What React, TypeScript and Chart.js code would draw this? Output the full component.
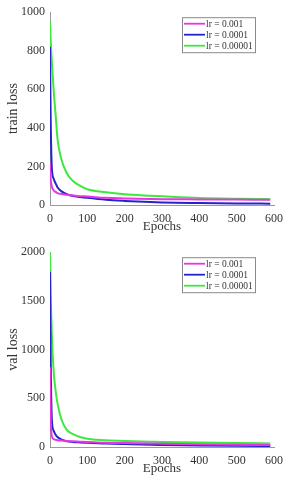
import React, { useEffect, useRef } from "react";
import { Chart, registerables } from "chart.js";

Chart.register(...registerables);

const epochs = [0, 1, 2, 5, 10, 15, 20, 30, 45, 60, 80, 100, 150, 200, 270, 300, 400, 500, 590];
const seriesLabels = ["lr = 0.001", "lr = 0.0001", "lr = 0.00001"];

const trainLr1 = [220, 170, 130, 95, 76, 68, 62, 57, 53, 50, 46, 44, 37, 34, 31, 30, 29, 28, 27];
const trainLr2 = [820, 600, 420, 190, 135, 112, 92, 72, 56, 48, 42, 37, 27, 21, 15, 13, 10, 8, 7];
const trainLr3 = [950, 900, 850, 740, 590, 470, 345, 240, 165, 127, 100, 82, 66, 56, 48, 45, 36, 32, 30];

const valLr1 = [820, 500, 280, 110, 80, 74, 70, 66, 62, 58, 55, 52, 44, 40, 36, 34, 28, 23, 20];
const valLr2 = [1800, 1300, 850, 280, 165, 125, 102, 78, 58, 52, 47, 43, 36, 30, 22, 20, 15, 12, 10];
const valLr3 = [2000, 1800, 1550, 1150, 770, 580, 450, 290, 175, 135, 103, 84, 70, 62, 55, 52, 45, 40, 37];

const colors = ["#e636e6", "#2424c8", "#3ee83e"];
const FONT = "'Liberation Serif', 'Times New Roman', serif";

const boxLegend = {
  id: "boxLegend",
  afterDraw(chart: any) {
    const { ctx, chartArea } = chart;
    const w = 73;
    const h = 35;
    const x = chartArea.right - 19 - w;
    const y = chartArea.top + 5;
    ctx.save();
    ctx.fillStyle = "#ffffff";
    ctx.fillRect(x, y, w, h);
    ctx.strokeStyle = "#8a8a8a";
    ctx.lineWidth = 1;
    ctx.strokeRect(x + 0.5, y + 0.5, w, h);
    ctx.font = `9.5px ${FONT}`;
    ctx.textBaseline = "middle";
    chart.data.datasets.forEach((ds: any, i: number) => {
      const ry = y + 6.5 + i * 11;
      ctx.strokeStyle = ds.borderColor;
      ctx.lineWidth = 1.8;
      ctx.beginPath();
      ctx.moveTo(x + 2, ry);
      ctx.lineTo(x + 23, ry);
      ctx.stroke();
      ctx.fillStyle = "#333";
      ctx.fillText(ds.label, x + 24, ry + 0.5);
    });
    ctx.restore();
  },
};

function makeConfig(yTitle: string, yMax: number, yStep: number, series: number[][], padBottom: number) {
  return {
    type: "line",
    data: {
      datasets: series.map((vals, i) => ({
        label: seriesLabels[i],
        data: epochs.map((e, j) => ({ x: e, y: vals[j] })),
        borderColor: colors[i],
        backgroundColor: colors[i],
        borderWidth: 2,
        pointRadius: 0,
        cubicInterpolationMode: "monotone",
        fill: false,
      })),
    },
    options: {
      responsive: false,
      animation: false,
      devicePixelRatio: 1,
      layout: { padding: { left: 0, right: 16, top: 12, bottom: padBottom } },
      plugins: { legend: { display: false }, tooltip: { enabled: false } },
      scales: {
        x: {
          type: "linear",
          min: 0,
          max: 600,
          grid: { display: false, drawTicks: false },
          border: { display: true, color: "#9a9a9a", width: 1 },
          ticks: {
            stepSize: 100,
            padding: 7,
            color: "#333",
            font: { family: FONT, size: 12 },
            maxRotation: 0,
            callback: (v: any) => String(v),
          },
          title: {
            display: true,
            text: "Epochs",
            color: "#333",
            font: { family: FONT, size: 13 },
            padding: { top: 0, bottom: 1 },
          },
          afterFit(scale: any) {
            scale.height = 30;
          },
        },
        y: {
          min: 0,
          max: yMax,
          grid: { display: false, drawTicks: false },
          border: { display: true, color: "#9a9a9a", width: 1 },
          ticks: {
            stepSize: yStep,
            padding: 5,
            color: "#333",
            font: { family: FONT, size: 12 },
            callback: (v: any) => String(v),
          },
          title: {
            display: true,
            text: yTitle,
            color: "#333",
            font: { family: FONT, size: 14 },
            padding: { top: 5, bottom: 0 },
          },
          afterFit(scale: any) {
            scale.width = 50;
          },
        },
      },
    },
    plugins: [boxLegend],
  } as any;
}

function LossChart({ cfg, top }: { cfg: any; top: number }) {
  const ref = useRef<HTMLCanvasElement | null>(null);
  useEffect(() => {
    if (!ref.current) return;
    const chart = new Chart(ref.current, cfg);
    return () => chart.destroy();
  }, [cfg]);
  return (
    <div style={{ position: "absolute", left: 0, top, width: 290, height: 240 }}>
      <canvas ref={ref} width={290} height={240} style={{ width: 290, height: 240, display: "block" }} />
    </div>
  );
}

const trainCfg = makeConfig("train loss", 1000, 200, [trainLr1, trainLr2, trainLr3], 5);
const valCfg = makeConfig("val loss", 2000, 500, [valLr1, valLr2, valLr3], 3);

export default function App() {
  return (
    <div style={{ position: "absolute", left: 0, top: 0, width: 290, height: 480, background: "#fff" }}>
      <LossChart cfg={trainCfg} top={0} />
      <LossChart cfg={valCfg} top={240} />
    </div>
  );
}
